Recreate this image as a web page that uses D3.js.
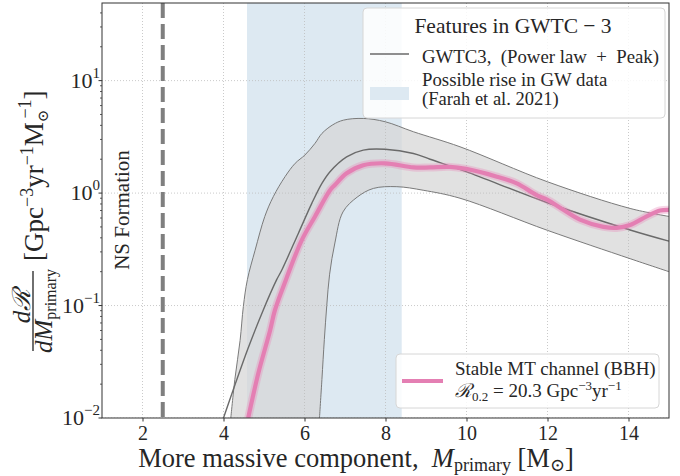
<!DOCTYPE html>
<html><head><meta charset="utf-8">
<script src="https://cdn.jsdelivr.net/npm/d3@7"></script>
<style>
body{margin:0;background:#fff}
svg{display:block}
text{font-family:"Liberation Serif","DejaVu Serif",serif;fill:#262626}
</style>
</head><body>
<svg id="c" width="680" height="476"></svg>
<script>
// ---------- data ----------
// GWTC-3 Power law + Peak: 90% band upper edge
const upperX = [4.18,4.28,4.41,4.49,4.59,4.78,5.02,5.23,5.52,5.77,6.01,6.26,6.43,6.70,6.96,7.45,7.99,8.69,9.84,12.0,14.04,15.0];
const upperV = [0.010,0.022,0.049,0.098,0.17,0.31,0.62,0.93,1.40,1.84,2.18,2.77,3.39,4.05,4.45,4.61,4.31,3.51,2.58,1.26,0.73,0.62];
// band lower edge
const lowerX = [6.37,6.43,6.49,6.55,6.62,6.75,6.95,7.30,7.70,8.28,8.93,9.84,12.0,14.04,15.0];
const lowerV = [0.010,0.022,0.050,0.100,0.19,0.36,0.68,0.92,1.10,1.14,1.06,0.90,0.466,0.261,0.20];
// median
const medX = [4.00,4.60,4.98,5.31,5.44,5.85,6.18,6.43,6.63,7.04,7.45,7.99,8.69,9.10,9.99,12.0,14.04,15.0];
const medV = [0.010,0.041,0.091,0.169,0.207,0.44,0.81,1.22,1.55,2.10,2.41,2.45,2.25,2.00,1.55,0.82,0.47,0.374];
// Stable MT channel (BBH)
const mtX = [4.61,4.86,5.15,5.27,5.54,5.93,6.26,6.63,6.75,7.04,7.45,7.99,8.69,9.10,9.59,9.99,10.75,11.24,11.73,12.0,12.39,12.80,13.38,13.71,14.04,14.45,14.78,15.0];
const mtV = [0.010,0.025,0.060,0.091,0.169,0.38,0.62,1.06,1.18,1.50,1.77,1.84,1.69,1.69,1.71,1.64,1.40,1.22,0.96,0.87,0.71,0.58,0.50,0.49,0.52,0.62,0.70,0.71];
const riseBand = [4.58, 8.40];
const nsMass = 2.5;
const xTicks = [2,4,6,8,10,12,14];
const yTicks = [0.01,0.1,1,10];
const yTickExp = ["\u22122","\u22121","0","1"];

// ---------- scales ----------
const L=102,R=669,T=3,B=418;
const X = d3.scaleLinear().domain([1,15]).range([L,R]);
const Y = d3.scaleLog().domain([0.01,49]).range([B,T]);
const svg = d3.select("#c");
svg.append("defs").append("clipPath").attr("id","pc").append("rect")
  .attr("x",L).attr("y",T).attr("width",R-L).attr("height",B-T);
const g = svg.append("g").attr("clip-path","url(#pc)");

const zip=(xs,vs)=>xs.map((x,i)=>[x,vs[i]]);
const line = d3.line().x(d=>X(d[0])).y(d=>Y(d[1])).curve(d3.curveCatmullRom.alpha(0.5));
const NB = "\u00A0";

// rise band
g.append("rect").attr("x",X(riseBand[0])).attr("width",X(riseBand[1])-X(riseBand[0]))
  .attr("y",T).attr("height",B-T).attr("fill","#dde9f2");

// gray fill
const up = zip(upperX,upperV), lo = zip(lowerX,lowerV);
const fillD = line(up) + "L" + line(lo.slice().reverse()).slice(1) + "Z";
g.append("path").attr("d",fillD).attr("fill","#d6d6d6").attr("fill-opacity",0.72);

// grid
xTicks.forEach(t=>g.append("line").attr("x1",X(t)).attr("x2",X(t)).attr("y1",T).attr("y2",B)
  .attr("stroke","#bdbdbd").attr("stroke-width",0.8).attr("stroke-dasharray","1,2"));
yTicks.forEach(t=>g.append("line").attr("y1",Y(t)).attr("y2",Y(t)).attr("x1",L).attr("x2",R)
  .attr("stroke","#bdbdbd").attr("stroke-width",0.8).attr("stroke-dasharray","1,2"));

// band edges + median
g.append("path").attr("d",line(up)).attr("fill","none").attr("stroke","#7a7a7a").attr("stroke-width",1);
g.append("path").attr("d",line(lo)).attr("fill","none").attr("stroke","#7a7a7a").attr("stroke-width",1);
g.append("path").attr("d",line(zip(medX,medV))).attr("fill","none").attr("stroke","#6a6a6a").attr("stroke-width",1.4);

// MT channel
const mt = zip(mtX,mtV);
g.append("path").attr("d",line(mt)).attr("fill","none").attr("stroke","#e78ab9").attr("stroke-opacity",0.35).attr("stroke-width",8).attr("stroke-linecap","round");
g.append("path").attr("d",line(mt)).attr("fill","none").attr("stroke","#e47fb3").attr("stroke-width",4.2);

// NS formation line
g.append("line").attr("x1",X(nsMass)).attr("x2",X(nsMass)).attr("y1",T).attr("y2",B)
  .attr("stroke","#7f7f7f").attr("stroke-width",4).attr("stroke-dasharray","15,6");
svg.append("text").attr("transform","translate(129,210) rotate(-90)").attr("text-anchor","middle")
  .attr("font-size",21).text("NS Formation");

// legend 1
const lg1 = svg.append("g");
lg1.append("rect").attr("x",363).attr("y",8).attr("width",302).attr("height",110).attr("rx",4)
  .attr("fill","#fff").attr("fill-opacity",0.85).attr("stroke","#d6d6d6");
lg1.append("text").attr("x",513).attr("y",33).attr("text-anchor","middle").attr("font-size",21.5).text("Features in GWTC"+NB+"\u2212"+NB+"3");
lg1.append("line").attr("x1",370).attr("x2",409).attr("y1",54).attr("y2",54).attr("stroke","#6a6a6a").attr("stroke-width",1.4);
lg1.append("text").attr("x",422).attr("y",63).attr("font-size",18.8).text("GWTC3,"+NB+NB+"(Power law"+NB+NB+"+"+NB+NB+"Peak)");
lg1.append("rect").attr("x",370).attr("y",87).attr("width",39).attr("height",13).attr("fill","#dde9f2");
lg1.append("text").attr("x",422).attr("y",86).attr("font-size",18.8).text("Possible rise in GW data");
lg1.append("text").attr("x",422).attr("y",105).attr("font-size",18.5).text("(Farah et al. 2021)");

// legend 2
const lg2 = svg.append("g");
lg2.append("rect").attr("x",396).attr("y",354).attr("width",263).attr("height",54).attr("rx",4)
  .attr("fill","#fff").attr("fill-opacity",0.85).attr("stroke","#d6d6d6");
lg2.append("line").attr("x1",402).attr("x2",443).attr("y1",381).attr("y2",381).attr("stroke","#e47fb3").attr("stroke-width",4.2);
lg2.append("text").attr("x",455).attr("y",375).attr("font-size",19).text("Stable MT channel (BBH)");
const t2 = lg2.append("text").attr("x",455).attr("y",397).attr("font-size",19);
t2.append("tspan").attr("font-style","italic").text("\u211B");
t2.append("tspan").attr("font-size",13).attr("dy",4).text("0.2");
t2.append("tspan").attr("dy",-4).text(NB+"="+NB+"20.3 Gpc");
t2.append("tspan").attr("font-size",13).attr("dy",-7).text("\u22123");
t2.append("tspan").attr("dy",7).text("yr");
t2.append("tspan").attr("font-size",13).attr("dy",-7).text("\u22121");

// spines
svg.append("rect").attr("x",L).attr("y",T).attr("width",R-L).attr("height",B-T)
  .attr("fill","none").attr("stroke","#333").attr("stroke-width",1);

// ticks
const xAxis = d3.axisBottom(X).tickValues(xTicks).tickSize(3.5).tickPadding(4).tickFormat(d3.format("d"));
const ax = svg.append("g").attr("transform",`translate(0,${B})`).call(xAxis);
ax.select(".domain").remove();
ax.selectAll("text").attr("font-size",20).attr("font-family","Liberation Serif").attr("fill","#262626");
ax.selectAll("line").attr("stroke","#333");

const minor=[];
[0.01,0.1,1,10].forEach(d=>{for(let k=2;k<10;k++){const v=d*k; if(v<=49) minor.push(v);}});
svg.append("g").selectAll("line").data(minor).join("line")
  .attr("x1",L-2).attr("x2",L).attr("y1",d=>Y(d)).attr("y2",d=>Y(d)).attr("stroke","#333").attr("stroke-width",0.8);
svg.append("g").selectAll("line").data(yTicks).join("line")
  .attr("x1",L-3.5).attr("x2",L).attr("y1",d=>Y(d)).attr("y2",d=>Y(d)).attr("stroke","#333");
yTicks.forEach((t,i)=>{
  const tx = svg.append("text").attr("x",L-2).attr("y",Y(t)+7).attr("text-anchor","end").attr("font-size",22);
  tx.append("tspan").text("10");
  tx.append("tspan").attr("font-size",15).attr("dy",-10).text(yTickExp[i]);
});

// x label
const xl = svg.append("text").attr("x",356).attr("y",467).attr("text-anchor","middle").attr("font-size",26.5);
xl.append("tspan").text("More massive component,"+NB+NB);
xl.append("tspan").attr("font-style","italic").text("M");
xl.append("tspan").attr("font-size",18).attr("dy",4).text("primary");
xl.append("tspan").attr("dy",-4).text(NB+"[M");
xl.append("tspan").attr("font-size",18).attr("dy",4).text("\u2299");
xl.append("tspan").attr("dy",-4).text("]");

// y label (rotated)
const yl = svg.append("g").attr("transform","rotate(-90)");
yl.append("line").attr("x1",-351).attr("x2",-271).attr("y1",33).attr("y2",33).attr("stroke","#222").attr("stroke-width",1.3);
const num = yl.append("text").attr("x",-306).attr("y",30).attr("text-anchor","middle").attr("font-size",25).attr("font-style","italic");
num.append("tspan").text("d\u211B");
const den = yl.append("text").attr("x",-311).attr("y",52).attr("text-anchor","middle").attr("font-size",25);
den.append("tspan").attr("font-style","italic").text("dM");
den.append("tspan").attr("font-size",16).attr("dy",4).text("primary");
const br = yl.append("text").attr("x",-261).attr("y",43).attr("font-size",27);
br.append("tspan").text("[Gpc");
br.append("tspan").attr("font-size",18).attr("dy",-10).text("\u22123");
br.append("tspan").attr("dy",10).text("yr");
br.append("tspan").attr("font-size",18).attr("dy",-10).text("\u22121");
br.append("tspan").attr("dy",10).text("M");
br.append("tspan").attr("font-size",15).attr("dy",5).text("\u2299");
br.append("tspan").attr("font-size",18).attr("dx",-9).attr("dy",-17).text("\u22121");
br.append("tspan").attr("dy",12).text("]");
</script>
</body></html>
